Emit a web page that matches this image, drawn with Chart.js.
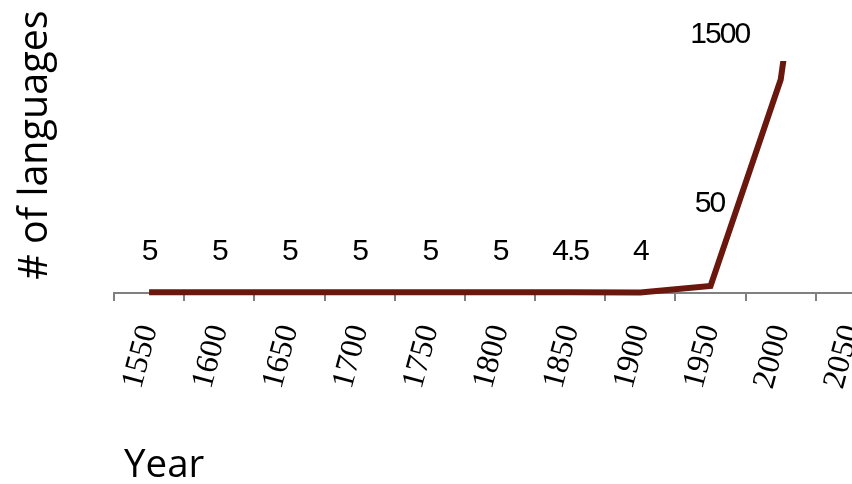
<!DOCTYPE html>
<html>
<head>
<meta charset="utf-8">
<script src="https://cdn.jsdelivr.net/npm/chart.js@4"></script>
<style>
  html, body { margin: 0; padding: 0; background: #fff; overflow: hidden; }
  #wrap { width: 852px; height: 484px; overflow: hidden; position: relative; }
  canvas { display: block; }
</style>
</head>
<body>
<div id="wrap"><canvas id="c" width="900" height="484"></canvas></div>
<script>
// ---- data ----
const years = ['1550','1600','1650','1700','1750','1800','1850','1900','1950','2000','2050'];
const languages = [5, 5, 5, 5, 5, 5, 4.5, 4, 50, 1500, 5000]; // 2050 value runs off the top of the chart (estimated)
const valueLabels = ['5','5','5','5','5','5','4.5','4','50','1500'];
const xTitle = 'Year';
const yTitle = '# of languages';

// ---- style ----
const lineColor = '#6a170e';
const axisColor = '#808080';
const labelOffsets = [[0,-41],[0,-41],[0,-41],[0,-41],[0,-41],[0,-41],[0,-41],[0,-41],[-1,-82],[-61,-45]];

const dataLabelPlugin = {
  id: 'dataLabels',
  afterDatasetsDraw(chart) {
    const ctx = chart.ctx;
    const meta = chart.getDatasetMeta(0);
    ctx.save();
    ctx.fillStyle = '#000';
    ctx.font = '30px "Liberation Sans", Arial, sans-serif';
    ctx.textAlign = 'center';
    ctx.textBaseline = 'middle';
    try { ctx.letterSpacing = '-2px'; } catch (e) {}
    valueLabels.forEach((t, i) => {
      const p = meta.data[i];
      const off = labelOffsets[i];
      ctx.fillText(t, p.x + off[0], p.y + off[1]);
    });
    ctx.restore();
  }
};

const axisTitlePlugin = {
  id: 'axisTitles',
  afterDraw(chart) {
    const ctx = chart.ctx;
    ctx.save();
    ctx.fillStyle = '#000';
    ctx.font = '38.5px "Open Sans", sans-serif';
    ctx.textBaseline = 'alphabetic';
    ctx.textAlign = 'left';
    ctx.fillText(xTitle, 124, 477);
    ctx.font = '39.5px "Open Sans", sans-serif';
    ctx.translate(47, 145);
    ctx.rotate(-Math.PI / 2);
    ctx.textAlign = 'center';
    ctx.fillText(yTitle, 0, 0);
    ctx.restore();
  }
};

new Chart(document.getElementById('c'), {
  type: 'line',
  data: {
    labels: years,
    datasets: [{
      data: languages,
      borderColor: lineColor,
      borderWidth: 6,
      borderJoinStyle: 'miter',
      borderCapStyle: 'butt',
      pointRadius: 0,
      pointHoverRadius: 0,
      tension: 0,
      fill: false,
      clip: { top: 0, left: false, right: false, bottom: false }
    }]
  },
  options: {
    responsive: false,
    animation: false,
    events: [],
    layout: { padding: { left: 114, right: 14, top: 61, bottom: 0 } },
    plugins: { legend: { display: false }, tooltip: { enabled: false } },
    scales: {
      x: {
        type: 'category',
        offset: true,
        grid: { offset: true, drawOnChartArea: false, drawTicks: true, tickLength: 8, color: axisColor, lineWidth: 2 },
        border: { display: true, color: axisColor, width: 2 },
        ticks: {
          color: '#000',
          font: { family: '"Liberation Serif", "Times New Roman", serif', size: 32 },
          minRotation: 75, maxRotation: 75,
          autoSkip: false,
          padding: 20
        },
        afterFit(scale) {
          scale.height = 191;
          scale.paddingLeft = 0;
          scale.paddingRight = 0;
        }
      },
      y: {
        display: false,
        min: 0,
        max: 1630
      }
    }
  },
  plugins: [dataLabelPlugin, axisTitlePlugin]
});
</script>
</body>
</html>
